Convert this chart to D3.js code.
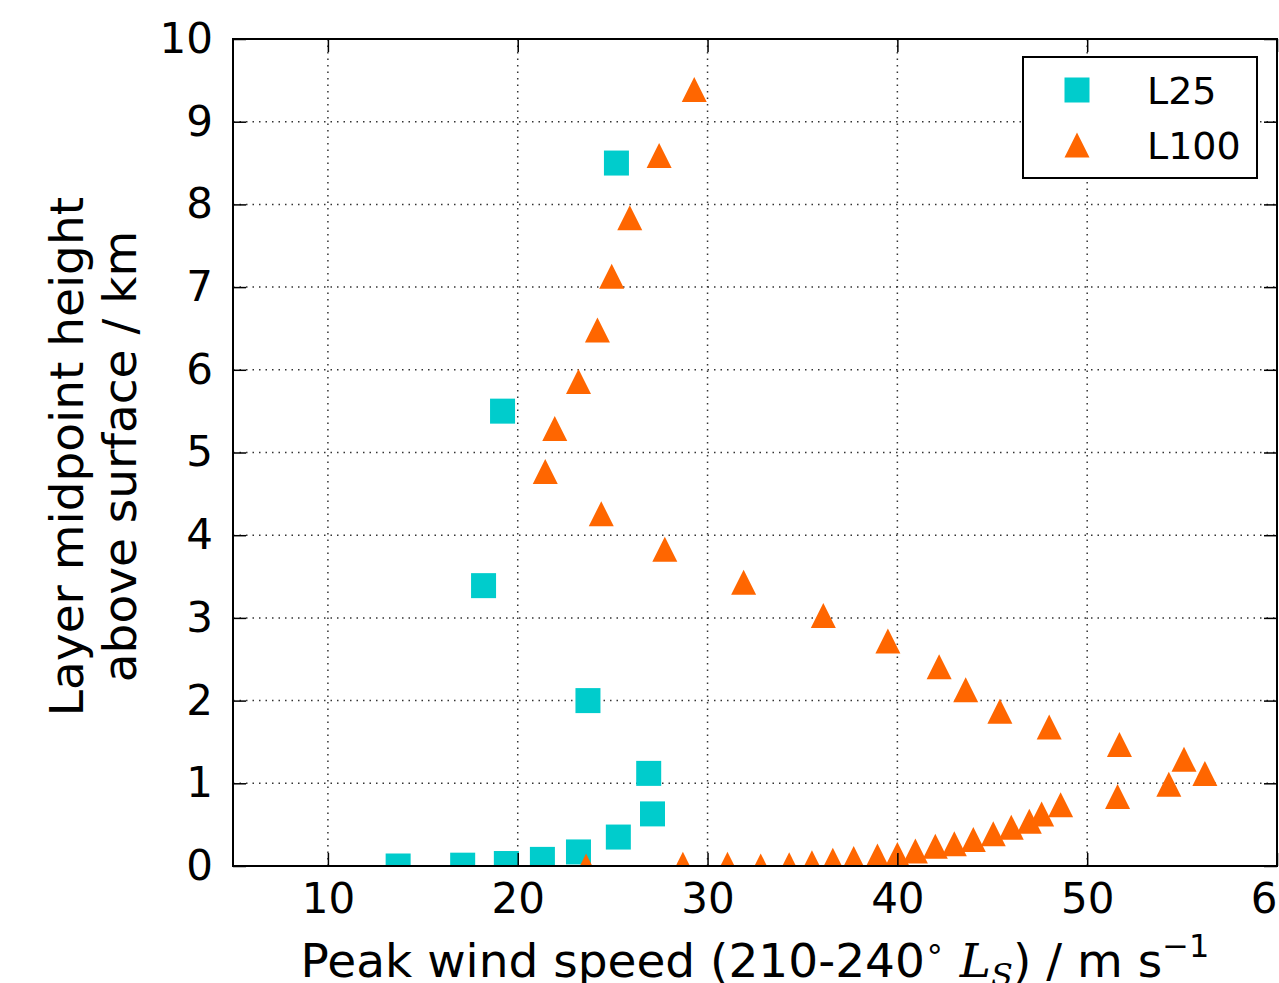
<!DOCTYPE html>
<html>
<head>
<meta charset="utf-8">
<script src="https://cdnjs.cloudflare.com/ajax/libs/d3/7.8.5/d3.min.js"></script>
<style>
  body { margin: 0; background: #fff; }
  svg { display: block; font-family: "DejaVu Sans", sans-serif; }
</style>
</head>
<body>
<div id="chart"></div>
<script>
// L25 run (squares)
var l25Speed  = [13.7, 17.1, 19.4, 21.3, 23.2, 25.3, 27.1, 26.9, 23.7, 18.2, 19.2, 25.2];
var l25Height = [0.0, 0.01, 0.03, 0.08, 0.17, 0.35, 0.63, 1.12, 2.0, 3.39, 5.5, 8.5];

// L100 run (triangles)
var l100Speed  = [23.6, 28.7, 31.05, 32.8, 34.3, 35.5, 36.6, 37.7, 38.95, 40.0, 40.95, 42.0, 43.0, 44.0,
                  45.05, 46.0, 46.95, 47.6, 48.6, 51.6, 54.3, 56.2, 55.1, 51.7, 48.0, 45.4, 43.6, 42.2,
                  39.5, 36.1, 31.9, 27.75, 24.4, 21.45, 21.95, 23.2, 24.2, 24.95, 25.9, 27.45, 29.3];
var l100Height = [0.0, 0.02, 0.02, 0.0, 0.015, 0.04, 0.07, 0.09, 0.12, 0.14, 0.18, 0.24, 0.27, 0.32,
                  0.39, 0.47, 0.54, 0.63, 0.74, 0.84, 0.99, 1.12, 1.29, 1.47, 1.68, 1.87, 2.13, 2.41,
                  2.72, 3.03, 3.43, 3.83, 4.26, 4.77, 5.29, 5.86, 6.48, 7.13, 7.84, 8.59, 9.39];

var xTicks = [10, 20, 30, 40, 50, 60];
var yTicks = [0, 1, 2, 3, 4, 5, 6, 7, 8, 9, 10];
var seriesNames = ["L25", "L100"];

var width = 1279, height = 983;
var margin = {left: 233, top: 39, right: 2, bottom: 117};
var plotW = width - margin.left - margin.right;
var plotH = height - margin.top - margin.bottom;

var cyan = "#00cccc", orange = "#ff6600";

var svg = d3.select("#chart").append("svg")
    .attr("width", width)
    .attr("height", height);

var x = d3.scaleLinear().domain([5, 60]).range([0, plotW]);
var y = d3.scaleLinear().domain([0, 10]).range([plotH, 0]);

var g = svg.append("g").attr("transform", "translate(" + margin.left + "," + margin.top + ")");

svg.append("defs").append("clipPath").attr("id", "clip")
  .append("rect").attr("width", plotW).attr("height", plotH);

// grid
g.append("g").selectAll("line").data(xTicks).enter().append("line")
    .attr("x1", d => x(d)).attr("x2", d => x(d))
    .attr("y1", 0).attr("y2", plotH)
    .attr("stroke", "#333").attr("stroke-width", 1.5)
    .attr("stroke-dasharray", "1.5,5");
g.append("g").selectAll("line").data(yTicks).enter().append("line")
    .attr("y1", d => y(d)).attr("y2", d => y(d))
    .attr("x1", 0).attr("x2", plotW)
    .attr("stroke", "#333").attr("stroke-width", 1.5)
    .attr("stroke-dasharray", "1.5,5");

// points
var pts = g.append("g").attr("clip-path", "url(#clip)");
var sq = 25;
pts.selectAll(".sq").data(d3.range(l25Speed.length)).enter().append("rect")
    .attr("x", i => x(l25Speed[i]) - sq / 2)
    .attr("y", i => y(l25Height[i]) - sq / 2)
    .attr("width", sq).attr("height", sq)
    .attr("fill", cyan);

function triPath(s) {
  var h = s / 2;
  return "M0," + (-h) + "L" + h + "," + h + "L" + (-h) + "," + h + "Z";
}
pts.selectAll(".tri").data(d3.range(l100Speed.length)).enter().append("path")
    .attr("d", triPath(25))
    .attr("transform", i => "translate(" + x(l100Speed[i]) + "," + y(l100Height[i]) + ")")
    .attr("fill", orange);

// frame
g.append("rect").attr("width", plotW).attr("height", plotH)
    .attr("fill", "none").attr("stroke", "#000").attr("stroke-width", 2);

// axes (inward ticks on all sides)
var tl = 13;
g.append("g").attr("transform", "translate(0," + plotH + ")")
    .call(d3.axisBottom(x).tickValues(xTicks).tickSizeInner(-tl).tickSizeOuter(0).tickPadding(17))
    .call(a => a.select(".domain").remove());
g.append("g")
    .call(d3.axisTop(x).tickValues(xTicks).tickSizeInner(-tl).tickSizeOuter(0).tickFormat(""))
    .call(a => a.select(".domain").remove());
g.append("g")
    .call(d3.axisLeft(y).tickValues(yTicks).tickSizeInner(-tl).tickSizeOuter(0).tickPadding(20))
    .call(a => a.select(".domain").remove());
g.append("g").attr("transform", "translate(" + plotW + ",0)")
    .call(d3.axisRight(y).tickValues(yTicks).tickSizeInner(-tl).tickSizeOuter(0).tickFormat(""))
    .call(a => a.select(".domain").remove());

g.selectAll(".tick line").attr("stroke", "#000").attr("stroke-width", 1.5);
g.selectAll(".tick text").attr("font-size", 42).attr("font-family", "DejaVu Sans").attr("fill", "#000");

// y label
var yl = svg.append("text")
    .attr("transform", "translate(0," + (margin.top + plotH / 2 + 4) + ") rotate(-90)")
    .attr("text-anchor", "middle").attr("font-size", 47).attr("fill", "#000");
yl.append("tspan").attr("x", 0).attr("y", 83).text("Layer midpoint height");
yl.append("tspan").attr("x", 0).attr("y", 136).text("above surface / km");

// x label
var xl = svg.append("text")
    .attr("x", margin.left + plotW / 2).attr("y", 977)
    .attr("text-anchor", "middle").attr("font-size", 47).attr("fill", "#000");
xl.append("tspan").text("Peak wind speed (210-240");
xl.append("tspan").attr("font-size", 32).attr("dy", -18).text("\u2218");
xl.append("tspan").attr("dy", 18).text(" ");
xl.append("tspan").attr("font-family", "DejaVu Serif").attr("font-style", "italic").text("L");
xl.append("tspan").attr("font-family", "DejaVu Serif").attr("font-style", "italic")
    .attr("font-size", 32).attr("dy", 9).text("S");
xl.append("tspan").attr("dy", -9).text(") / m s");
xl.append("tspan").attr("font-size", 32).attr("dy", -20).text("\u22121");

// legend
var lg = svg.append("g").attr("transform", "translate(1023,57)");
lg.append("rect").attr("width", 234).attr("height", 121)
    .attr("fill", "#fff").attr("stroke", "#000").attr("stroke-width", 2);
var rows = lg.selectAll(".row").data(seriesNames).enter().append("g")
    .attr("transform", (d, i) => "translate(0," + (33 + i * 55) + ")");
rows.filter((d, i) => i === 0).append("rect")
    .attr("x", 54 - sq / 2).attr("y", -sq / 2).attr("width", sq).attr("height", sq).attr("fill", cyan);
rows.filter((d, i) => i === 1).append("path")
    .attr("d", triPath(25)).attr("transform", "translate(54,0)").attr("fill", orange);
rows.append("text").attr("x", 124).attr("dy", "0.36em")
    .attr("font-size", 38).attr("fill", "#000").text(d => d);
</script>
</body>
</html>
